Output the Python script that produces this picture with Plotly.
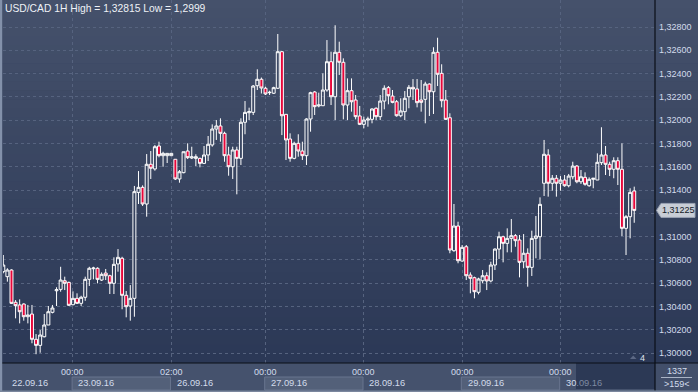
import plotly.graph_objects as go

# ---------------- data ----------------
title_text = "USD/CAD 1H High = 1,32815 Low = 1,2999"

open_ = [1.30699, 1.30656, 1.30713, 1.30436, 1.30413, 1.30421, 1.30312, 1.30335, 1.30118, 1.30066,
         1.30140, 1.30241, 1.30350, 1.30535, 1.30547, 1.30621, 1.30607, 1.30415, 1.30470, 1.30427,
         1.30479, 1.30633, 1.30724, 1.30728, 1.30627, 1.30687, 1.30664, 1.30599, 1.30765, 1.30814,
         1.30496, 1.30404, 1.30470, 1.31380, 1.31423, 1.31280, 1.31621, 1.31581, 1.31778, 1.31695,
         1.31695, 1.31695, 1.31664, 1.31495, 1.31549, 1.31735, 1.31675, 1.31672, 1.31672, 1.31629,
         1.31701, 1.31787, 1.31924, 1.31950, 1.31887, 1.31701, 1.31600, 1.31744, 1.31672, 1.31982,
         1.32064, 1.32067, 1.32296, 1.32351, 1.32274, 1.32236, 1.32231, 1.32274, 1.32588, 1.32050,
         1.31838, 1.31672, 1.31801, 1.31735, 1.31695, 1.32010, 1.32242, 1.32122, 1.32124, 1.32259,
         1.32502, 1.32201, 1.32583, 1.32497, 1.32130, 1.32253, 1.32173, 1.32036, 1.31964, 1.32001,
         1.32007, 1.32102, 1.32030, 1.32164, 1.32279, 1.32207, 1.32158, 1.32038, 1.32073, 1.32201,
         1.32282, 1.32268, 1.32173, 1.32179, 1.32310, 1.32244, 1.32583, 1.32402, 1.32173, 1.32021,
         1.30879, 1.31091, 1.30790, 1.30913, 1.30670, 1.30647, 1.30522, 1.30621, 1.30664, 1.30619,
         1.30756, 1.30893, 1.30999, 1.30942, 1.30985, 1.31008, 1.30971, 1.30784, 1.30857, 1.30736,
         1.30985, 1.30999, 1.31458, 1.31701, 1.31458, 1.31501, 1.31458, 1.31486, 1.31437, 1.31514,
         1.31606, 1.31471, 1.31509, 1.31437, 1.31492, 1.31486, 1.31635, 1.31701, 1.31621, 1.31578,
         1.31652, 1.31578, 1.31071, 1.31171, 1.31392]

close = [1.30756, 1.30713, 1.30427, 1.30407, 1.30355, 1.30312, 1.30327, 1.30118, 1.30066, 1.30155,
         1.30241, 1.30355, 1.30387, 1.30544, 1.30627, 1.30599, 1.30410, 1.30470, 1.30427, 1.30479,
         1.30633, 1.30728, 1.30730, 1.30633, 1.30676, 1.30664, 1.30599, 1.30762, 1.30822, 1.30496,
         1.30398, 1.30470, 1.31386, 1.31423, 1.31280, 1.31621, 1.31587, 1.31772, 1.31695, 1.31715,
         1.31715, 1.31715, 1.31495, 1.31557, 1.31729, 1.31678, 1.31685, 1.31686, 1.31629, 1.31701,
         1.31793, 1.31924, 1.31950, 1.31887, 1.31695, 1.31600, 1.31744, 1.31672, 1.31982, 1.32067,
         1.32073, 1.32293, 1.32351, 1.32276, 1.32225, 1.32239, 1.32279, 1.32588, 1.32038, 1.31830,
         1.31672, 1.31801, 1.31735, 1.31695, 1.32010, 1.32236, 1.32116, 1.32130, 1.32259, 1.32502,
         1.32201, 1.32583, 1.32497, 1.32130, 1.32253, 1.32158, 1.32030, 1.31964, 1.32001, 1.32010,
         1.32096, 1.32030, 1.32164, 1.32274, 1.32210, 1.32153, 1.32038, 1.32079, 1.32188, 1.32282,
         1.32268, 1.32150, 1.32153, 1.32310, 1.32244, 1.32583, 1.32394, 1.32167, 1.32007, 1.30885,
         1.31091, 1.30793, 1.30908, 1.30664, 1.30642, 1.30527, 1.30636, 1.30664, 1.30619, 1.30756,
         1.30893, 1.30999, 1.30942, 1.30985, 1.31008, 1.30965, 1.30779, 1.30857, 1.30736, 1.30985,
         1.31005, 1.31277, 1.31707, 1.31458, 1.31501, 1.31458, 1.31486, 1.31437, 1.31520, 1.31606,
         1.31471, 1.31514, 1.31449, 1.31492, 1.31501, 1.31638, 1.31701, 1.31621, 1.31578, 1.31652,
         1.31578, 1.31071, 1.31171, 1.31380, 1.31225]

high = [1.30842, 1.30728, 1.30719, 1.30455, 1.30461, 1.30427, 1.30413, 1.30413, 1.30163, 1.30198,
        1.30335, 1.30404, 1.30413, 1.30565, 1.30741, 1.30656, 1.30613, 1.30530, 1.30513, 1.30492,
        1.30656, 1.30741, 1.30741, 1.30736, 1.30693, 1.30722, 1.30673, 1.30822, 1.30893, 1.30827,
        1.30533, 1.30584, 1.31435, 1.31563, 1.31440, 1.31709, 1.31735, 1.31787, 1.31815, 1.31729,
        1.31715, 1.31715, 1.31664, 1.31572, 1.31729, 1.31801, 1.31772, 1.31707, 1.31678, 1.31778,
        1.31864, 1.31964, 1.32001, 1.32016, 1.31901, 1.31772, 1.31772, 1.31772, 1.32016, 1.32164,
        1.32107, 1.32302, 1.32437, 1.32366, 1.32287, 1.32253, 1.32287, 1.32740, 1.32594, 1.32050,
        1.31887, 1.31815, 1.31879, 1.31815, 1.32016, 1.32244, 1.32250, 1.32236, 1.32402, 1.32688,
        1.32588, 1.32815, 1.32674, 1.32531, 1.32359, 1.32359, 1.32216, 1.32122, 1.32030, 1.32030,
        1.32102, 1.32110, 1.32216, 1.32299, 1.32293, 1.32259, 1.32173, 1.32188, 1.32250, 1.32302,
        1.32353, 1.32353, 1.32345, 1.32330, 1.32316, 1.32626, 1.32708, 1.32480, 1.32259, 1.32059,
        1.31280, 1.31128, 1.30928, 1.30928, 1.30693, 1.30656, 1.30647, 1.30713, 1.30693, 1.30784,
        1.30899, 1.31042, 1.31008, 1.31071, 1.31151, 1.31022, 1.31014, 1.31022, 1.30899, 1.31051,
        1.31177, 1.31337, 1.31830, 1.31750, 1.31529, 1.31529, 1.31520, 1.31529, 1.31538, 1.31643,
        1.31615, 1.31572, 1.31552, 1.31509, 1.31503, 1.31715, 1.31939, 1.31778, 1.31643, 1.31681,
        1.31681, 1.31801, 1.31185, 1.31415, 1.31429]

low = [1.30685, 1.30613, 1.30421, 1.30298, 1.30255, 1.30278, 1.30255, 1.30084, 1.29990, 1.30003,
       1.30135, 1.30241, 1.30341, 1.30404, 1.30527, 1.30541, 1.30404, 1.30410, 1.30421, 1.30404,
       1.30449, 1.30576, 1.30633, 1.30599, 1.30619, 1.30627, 1.30507, 1.30507, 1.30699, 1.30376,
       1.30307, 1.30278, 1.30312, 1.31280, 1.31263, 1.31171, 1.31495, 1.31566, 1.31681, 1.31600,
       1.31632, 1.31695, 1.31486, 1.31463, 1.31544, 1.31666, 1.31666, 1.31606, 1.31595, 1.31623,
       1.31649, 1.31772, 1.31830, 1.31815, 1.31643, 1.31523, 1.31495, 1.31363, 1.31615, 1.31879,
       1.32001, 1.32044, 1.32259, 1.32229, 1.32216, 1.32216, 1.32225, 1.32268, 1.31872, 1.31658,
       1.31643, 1.31664, 1.31686, 1.31658, 1.31615, 1.31901, 1.32044, 1.32110, 1.32122, 1.32244,
       1.32130, 1.32001, 1.32388, 1.32007, 1.32001, 1.32073, 1.32007, 1.31958, 1.31930, 1.31944,
       1.31973, 1.32001, 1.32001, 1.32093, 1.32136, 1.32145, 1.32030, 1.32025, 1.32001, 1.32102,
       1.32173, 1.32110, 1.32073, 1.31973, 1.32036, 1.32053, 1.32293, 1.32110, 1.32001, 1.30857,
       1.30870, 1.30771, 1.30784, 1.30627, 1.30513, 1.30470, 1.30504, 1.30599, 1.30541, 1.30607,
       1.30713, 1.30808, 1.30779, 1.30865, 1.30865, 1.30913, 1.30650, 1.30728, 1.30570, 1.30662,
       1.30814, 1.30805, 1.31349, 1.31343, 1.31394, 1.31343, 1.31394, 1.31428, 1.31423, 1.31492,
       1.31458, 1.31452, 1.31437, 1.31428, 1.31415, 1.31486, 1.31615, 1.31529, 1.31520, 1.31501,
       1.31443, 1.31005, 1.30842, 1.30985, 1.31119]

price_ticks = [1.300, 1.302, 1.304, 1.306, 1.308, 1.310, 1.312, 1.314,
               1.316, 1.318, 1.320, 1.322, 1.324, 1.326, 1.328]
price_labels = ["1,30000", "1,30200", "1,30400", "1,30600", "1,30800", "1,31000", "",
                "1,31400", "1,31600", "1,31800", "1,32000", "1,32200", "1,32400", "1,32600", "1,32800"]

day_start_idx = [17, 41, 64, 88, 112, 136]
time_labels = ["00:00", "02:00", "00:00", "00:00", "00:00", "00:00"]
date_labels = ["22.09.16", "23.09.16", "26.09.16", "27.09.16", "28.09.16", "29.09.16", "30.09.16"]

last_price = 1.31225
last_label = "1,31225"
bars_total = "1337"
bars_visible = ">159<"
marker_count = "4"

# ---------------- geometry helpers ----------------
W, H = 698, 392
PL, PR, PT, PB = 3, 655, 0, 363
Y_LO, Y_HI = 1.299146, 1.330319
X_LO, X_HI = -0.07, 159.07


def px(X):
    return (X - PL) / (PR - PL)


def py(Y):
    return (PB - Y) / (PB - PT)


def price_to_pix(p):
    return PT + (Y_HI - p) / (Y_HI - Y_LO) * (PB - PT)


FONT = "Liberation Sans"
TXT = "#d3dcec"
GRID = "#56637f"

n = len(open_)
xs = list(range(n))

fig = go.Figure()
fig.add_trace(go.Candlestick(
    x=xs, open=open_, high=high, low=low, close=close,
    increasing=dict(line=dict(color="#ffffff", width=1), fillcolor="rgba(0,0,0,0)"),
    decreasing=dict(line=dict(color="#ffffff", width=1), fillcolor="#e8063a"),
    whiskerwidth=0, showlegend=False, hoverinfo="skip",
))

shapes = []
# background gradient (plot + right axis area)
top_c = (69, 81, 107)
bot_c = (43, 56, 86)
N = 40
for k in range(N):
    y0 = PB * k / N
    y1 = PB * (k + 1) / N
    t = (k + 0.5) / N
    c = tuple(round(top_c[i] + (bot_c[i] - top_c[i]) * t) for i in range(3))
    shapes.append(dict(type="rect", xref="paper", yref="paper", layer="below",
                       x0=px(0), x1=px(W), y0=py(y1), y1=py(y0) + 0.001,
                       fillcolor="rgb(%d,%d,%d)" % c, line=dict(width=0)))
# bottom band
shapes.append(dict(type="rect", xref="paper", yref="paper", layer="above",
                   x0=px(0), x1=px(W), y0=py(H), y1=py(PB),
                   fillcolor="#45526d", line=dict(width=0)))
# alternating date boxes
bounds = [None] + day_start_idx + [None]
for k in range(len(date_labels)):
    if k % 2 == 1:
        x0 = bounds[k]
        x1 = bounds[k + 1] if bounds[k + 1] is not None else X_HI
        shapes.append(dict(type="rect", xref="x", yref="paper", layer="above",
                           x0=x0 - 0.2, x1=x1 - 0.2, y0=py(390), y1=py(377),
                           fillcolor="#536079", line=dict(color="#69758f", width=1)))
# right-bottom info box
shapes.append(dict(type="rect", xref="paper", yref="paper", layer="above",
                   x0=px(PR), x1=px(W), y0=py(H), y1=py(PB),
                   fillcolor="#424f6a", line=dict(width=0)))
shapes.append(dict(type="line", xref="paper", yref="paper", layer="above",
                   x0=px(661), x1=px(692), y0=py(377.5), y1=py(377.5),
                   line=dict(color="#aab4c6", width=1)))
# dark overlay of the current window in the time band
shapes.append(dict(type="rect", xref="paper", yref="paper", layer="above",
                   x0=px(576), x1=px(PR), y0=py(389), y1=py(PB),
                   fillcolor="#2c3955", line=dict(width=0)))
# axis frame lines
shapes.append(dict(type="line", xref="paper", yref="paper", layer="above",
                   x0=px(0), x1=px(W), y0=py(PB), y1=py(PB),
                   line=dict(color="#0a0e17", width=1.2)))
shapes.append(dict(type="line", xref="paper", yref="paper", layer="above",
                   x0=px(PR), x1=px(PR), y0=py(H), y1=py(0),
                   line=dict(color="#0a0e17", width=1.2)))
# left border strip
shapes.append(dict(type="rect", xref="paper", yref="paper", layer="above",
                   x0=px(0), x1=px(2.2), y0=py(H), y1=py(0),
                   fillcolor="#8391aa", line=dict(width=0)))
shapes.append(dict(type="rect", xref="paper", yref="paper", layer="above",
                   x0=px(0), x1=px(W), y0=py(H), y1=py(390.5),
                   fillcolor="#7b879e", line=dict(width=0)))
# small marker triangle
shapes.append(dict(type="path", xref="paper", yref="paper", layer="above",
                   path="M %f,%f L %f,%f L %f,%f Z" % (px(630), py(359), px(636.5), py(359), px(633.2), py(355.5)),
                   fillcolor="#5c6884", line=dict(width=0)))
# last price marker
ly = price_to_pix(last_price)
shapes.append(dict(type="path", xref="paper", yref="paper", layer="above",
                   path="M %f,%f L %f,%f L %f,%f L %f,%f L %f,%f Z" % (
                       px(656.5), py(ly), px(661), py(ly - 7), px(695), py(ly - 7),
                       px(695), py(ly + 7), px(661), py(ly + 7)),
                   fillcolor="#c8cdd6", line=dict(color="#98a1b2", width=1)))

annotations = []
annotations.append(dict(text=title_text, xref="paper", yref="paper", x=px(3), y=py(1),
                        xanchor="left", yanchor="top", showarrow=False,
                        font=dict(family=FONT, size=10.3, color="#eef1f6")))
for idx, lab in zip(day_start_idx, time_labels):
    annotations.append(dict(text=lab, xref="x", yref="paper", x=idx, y=py(371.5),
                            xanchor="center", yanchor="middle", showarrow=False,
                            font=dict(family=FONT, size=9, color=TXT)))
for k, lab in enumerate(date_labels):
    if k == 0:
        ax = dict(xref="paper", x=px(10), xshift=0)
    else:
        ax = dict(xref="x", x=day_start_idx[k - 1], xshift=3.5)
    txt = lab
    if k == len(date_labels) - 1:
        txt = lab[:2] + "<span style='color:#7e8aa2'>" + lab[2:] + "</span>"
    annotations.append(dict(text=txt, yref="paper", y=py(382.5), xanchor="left",
                            yanchor="middle", showarrow=False,
                            font=dict(family=FONT, size=9.3, color=TXT), **ax))
annotations.append(dict(text=last_label, xref="paper", yref="paper", x=px(678.5), y=py(ly),
                        xanchor="center", yanchor="middle", showarrow=False,
                        font=dict(family=FONT, size=9, color="#141a26")))
annotations.append(dict(text=bars_total, xref="paper", yref="paper", x=px(676.5), y=py(370.5),
                        xanchor="center", yanchor="middle", showarrow=False,
                        font=dict(family=FONT, size=9, color=TXT)))
annotations.append(dict(text=bars_visible, xref="paper", yref="paper", x=px(676.5), y=py(383.5),
                        xanchor="center", yanchor="middle", showarrow=False,
                        font=dict(family=FONT, size=9, color=TXT)))
annotations.append(dict(text=marker_count, xref="paper", yref="paper", x=px(642), y=py(358),
                        xanchor="center", yanchor="middle", showarrow=False,
                        font=dict(family=FONT, size=9, color="#dfe5ef")))

fig.update_layout(
    width=W, height=H, autosize=False,
    margin=dict(l=PL, r=W - PR, t=PT, b=H - PB, pad=0),
    paper_bgcolor="#34415e", plot_bgcolor="rgba(0,0,0,0)",
    boxgap=0.15, boxgroupgap=0.15,
    showlegend=False,
    shapes=shapes, annotations=annotations,
    xaxis=dict(range=[X_LO, X_HI], rangeslider=dict(visible=False),
               tickmode="array", tickvals=day_start_idx, showticklabels=False,
               showgrid=True, gridcolor=GRID, griddash="3px,3px", gridwidth=1,
               zeroline=False, showline=False, ticks="", fixedrange=True),
    yaxis=dict(range=[Y_LO, Y_HI], side="right", tickmode="array",
               tickvals=price_ticks, ticktext=price_labels,
               showgrid=True, gridcolor=GRID, griddash="3px,3px", gridwidth=1,
               zeroline=False, showline=False, ticks="", ticklabelstandoff=3,
               tickfont=dict(family=FONT, size=9, color=TXT), fixedrange=True),
)

fig.write_html("out.html")
